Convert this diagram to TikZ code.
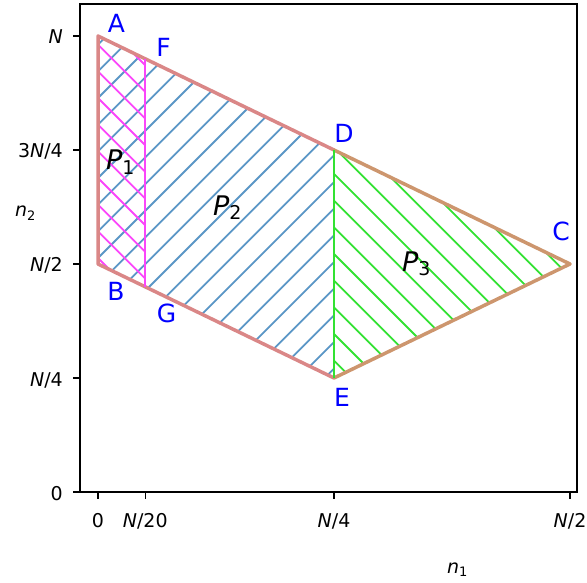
\documentclass[tikz,border=0pt]{standalone}
\usepackage{fontspec}
\setmainfont{DejaVu Sans}
\definecolor{outl}{RGB}{218,135,135}
\definecolor{tanl}{RGB}{205,150,110}
\definecolor{hblue}{RGB}{90,150,198}
\definecolor{hmag}{RGB}{250,70,250}
\definecolor{hgreen}{RGB}{50,225,50}
\begin{document}
\begin{tikzpicture}[x=1pt,y=-1pt,
  hatchblue/.style={draw=hblue,line width=1.8pt},
  hatchmag/.style={draw=hmag,line width=1.8pt},
  hatchgreen/.style={draw=hgreen,line width=1.8pt},
  outline/.style={draw=outl,line width=3.5pt,line join=round,line cap=round},
  tanline/.style={draw=tanl,line width=3.5pt,line join=round,line cap=round},
  spine/.style={draw=black,line width=1.4pt},
  tickmark/.style={draw=black,line width=1.4pt},
  ticklab/.style={inner sep=0pt,font=\fontsize{19}{19}\selectfont},
  ptlab/.style={inner sep=0pt,text=blue,font=\fontsize{25}{25}\selectfont},
  reglab/.style={inner sep=0pt,anchor=base west,font=\fontsize{27}{27}\selectfont}]
\useasboundingbox (0,0) rectangle (587,583);
\coordinate (A) at (98,36);
\coordinate (B) at (98,264);
\coordinate (D) at (334,150);
\coordinate (E) at (334,378);
\coordinate (C) at (570,264);
\coordinate (F) at (145.2,58.8);
\coordinate (G) at (145.2,286.8);
% hatching P2 (blue /)
\begin{scope}
\clip (A)--(D)--(E)--(B)--cycle;
\foreach \k in {4,...,28} \draw[hatchblue] ({9.3+26.67*\k},0) -- ++(-600,600);
\end{scope}
% hatching P1 (magenta \)
\begin{scope}
\clip (A)--(F)--(G)--(B)--cycle;
\foreach \k in {-10,...,6} \draw[hatchmag] ({26.67*\k},0) -- ++(600,600);
\end{scope}
% hatching P3 (green \)
\begin{scope}
\clip (D)--(C)--(E)--cycle;
\foreach \k in {-3,...,17} \draw[hatchgreen] ({26.67*\k},0) -- ++(600,600);
\end{scope}
% outlines
\draw[outline] (D)--(A)--(B)--(E);
\draw[tanline] (D)--(C)--(E);
\draw[draw=hmag,line width=2.4pt] (F)--(G);
\draw[draw=hgreen,line width=2.4pt] (D)--(E);
% axes
\draw[spine] (80,4) rectangle (577,492);
\foreach \y in {36,150,264,378,492} \draw[tickmark] (73,\y) -- (80,\y);
\foreach \x in {98,145.2,334,570} \draw[tickmark] (\x,492) -- (\x,499);
\node[ticklab,anchor=base east] (ya) at (63,44) {\textit{N}};
\node[ticklab,anchor=base east] (yb) at (63,158) {3\textit{N}/4};
\node[ticklab,anchor=base east] (yc) at (63,272) {\textit{N}/2};
\node[ticklab,anchor=base east] (yd) at (63,386) {\textit{N}/4};
\node[ticklab,anchor=base east] (ye) at (63,500) {0};
\node[ticklab,anchor=base] (xa) at (98,527) {0};
\node[ticklab,anchor=base] (xb) at (145.2,527) {\textit{N}/20};
\node[ticklab,anchor=base] (xc) at (334,527) {\textit{N}/4};
\node[ticklab,anchor=base] (xd) at (570,527) {\textit{N}/2};
\node[ticklab,anchor=base west] (n1) at (447,573) {\textit{n}\raisebox{-3.5pt}{\fontsize{13}{13}\selectfont 1}};
\node[ticklab,anchor=base west] (n2) at (15,217) {\textit{n}\raisebox{-3.5pt}{\fontsize{13}{13}\selectfont 2}};
% point labels
\node[ptlab] (lA) at (116.5,23) {A};
\node[ptlab] (lF) at (163.5,47) {F};
\node[ptlab] (lD) at (344,133) {D};
\node[ptlab] (lC) at (561,231) {C};
\node[ptlab] (lE) at (342,397) {E};
\node[ptlab] (lB) at (116,291) {B};
\node[ptlab] (lG) at (166.5,313) {G};
% region labels
\node[reglab] (p1) at (106,170) {\textit{P}\raisebox{-5pt}{\fontsize{19}{19}\selectfont 1}};
\node[reglab] (p2) at (213,215) {\textit{P}\raisebox{-5pt}{\fontsize{19}{19}\selectfont 2}};
\node[reglab] (p3) at (402,271) {\textit{P}\raisebox{-5pt}{\fontsize{19}{19}\selectfont 3}};
\end{tikzpicture}
\end{document}
